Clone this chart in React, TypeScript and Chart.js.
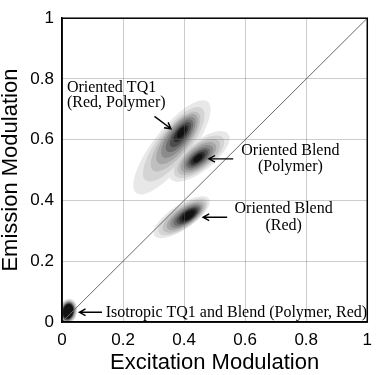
import { useEffect, useRef } from "react";
import { Chart, registerables } from "chart.js";

Chart.register(...registerables);

// Axis ticks
const xTicks = [0, 0.2, 0.4, 0.6, 0.8, 1];
const yTicks = [0, 0.2, 0.4, 0.6, 0.8, 1];

// Diagonal reference line (emission = excitation)
const diagonalX = [0, 1];
const diagonalY = [0, 1];

// Filled contour levels, lightest to darkest
const levelGrays = ["#e8e8e8", "#d4d4d4", "#bfbfbf", "#a6a6a6", "#8c8c8c", "#6e6e6e", "#4e4e4e", "#2e2e2e", "#121212"];

// Oriented TQ1 (Red, Polymer) contour ellipses per level
const tq1CenterX = [0.36, 0.366, 0.372, 0.377, 0.381, 0.385, 0.388, 0.39, 0.392];
const tq1CenterY = [0.575, 0.585, 0.594, 0.602, 0.608, 0.613, 0.617, 0.621, 0.624];
const tq1Major = [0.19, 0.15, 0.12, 0.1, 0.082, 0.065, 0.05, 0.035, 0.022];
const tq1Minor = [0.062, 0.052, 0.044, 0.038, 0.032, 0.026, 0.02, 0.015, 0.01];
const tq1Angle = 52;

// Oriented Blend (Polymer)
const blendPolyCenterX = [0.45, 0.449, 0.448, 0.447, 0.447, 0.446, 0.446, 0.445, 0.445];
const blendPolyCenterY = [0.545, 0.544, 0.543, 0.542, 0.541, 0.54, 0.54, 0.539, 0.539];
const blendPolyMajor = [0.12, 0.1, 0.084, 0.07, 0.058, 0.047, 0.038, 0.028, 0.018];
const blendPolyMinor = [0.048, 0.042, 0.037, 0.032, 0.027, 0.022, 0.017, 0.013, 0.009];
const blendPolyAngle = 38;

// Oriented Blend (Red)
const blendRedCenterX = [0.392, 0.396, 0.4, 0.403, 0.406, 0.409, 0.411, 0.413, 0.414];
const blendRedCenterY = [0.345, 0.346, 0.347, 0.348, 0.349, 0.35, 0.35, 0.351, 0.351];
const blendRedMajor = [0.108, 0.094, 0.082, 0.07, 0.06, 0.051, 0.042, 0.034, 0.025];
const blendRedMinor = [0.04, 0.036, 0.032, 0.028, 0.025, 0.021, 0.018, 0.015, 0.011];
const blendRedAngle = 34;

// Isotropic TQ1 and Blend
const isoCenterX = [0.02, 0.02, 0.02, 0.02, 0.02, 0.02, 0.02, 0.02, 0.02];
const isoCenterY = [0.035, 0.035, 0.035, 0.035, 0.035, 0.035, 0.035, 0.035, 0.035];
const isoMajor = [0.042, 0.039, 0.036, 0.034, 0.032, 0.03, 0.028, 0.026, 0.024];
const isoMinor = [0.03, 0.028, 0.026, 0.024, 0.022, 0.02, 0.019, 0.018, 0.016];
const isoAngle = 80;

// Annotation texts and their anchor positions (data units)
const annotationLines = [
  { text: "Oriented TQ1", x: 0.016, y: 0.757, align: "left" },
  { text: "(Red, Polymer)", x: 0.016, y: 0.709, align: "left" },
  { text: "Oriented Blend", x: 0.748, y: 0.55, align: "center" },
  { text: "(Polymer)", x: 0.748, y: 0.497, align: "center" },
  { text: "Oriented Blend", x: 0.726, y: 0.358, align: "center" },
  { text: "(Red)", x: 0.726, y: 0.304, align: "center" },
  { text: "Isotropic TQ1 and Blend (Polymer, Red)", x: 0.143, y: 0.016, align: "left" },
];

// Arrows: start -> head (data units)
const arrowFromX = [0.303, 0.561, 0.541, 0.131];
const arrowFromY = [0.677, 0.537, 0.345, 0.032];
const arrowToX = [0.357, 0.481, 0.462, 0.057];
const arrowToY = [0.636, 0.537, 0.345, 0.032];

const blobs = [
  { cx: tq1CenterX, cy: tq1CenterY, major: tq1Major, minor: tq1Minor, angle: tq1Angle },
  { cx: blendPolyCenterX, cy: blendPolyCenterY, major: blendPolyMajor, minor: blendPolyMinor, angle: blendPolyAngle },
  { cx: blendRedCenterX, cy: blendRedCenterY, major: blendRedMajor, minor: blendRedMinor, angle: blendRedAngle },
  { cx: isoCenterX, cy: isoCenterY, major: isoMajor, minor: isoMinor, angle: isoAngle },
];

const SANS = "'Liberation Sans', Arial, sans-serif";
const SERIF = "'Liberation Serif', 'Times New Roman', serif";

const blobPlugin = {
  id: "blobs",
  beforeDraw(chart: any) {
    const { ctx, chartArea } = chart;
    const xs = chart.scales.x;
    const ys = chart.scales.y;
    const ux = xs.getPixelForValue(1) - xs.getPixelForValue(0);
    const uy = ys.getPixelForValue(0) - ys.getPixelForValue(1);
    ctx.save();
    ctx.beginPath();
    ctx.rect(chartArea.left, chartArea.top, chartArea.right - chartArea.left, chartArea.bottom - chartArea.top);
    ctx.clip();
    for (let i = 0; i < levelGrays.length; i++) {
      ctx.fillStyle = levelGrays[i];
      for (const b of blobs) {
        ctx.beginPath();
        ctx.ellipse(
          xs.getPixelForValue(b.cx[i]),
          ys.getPixelForValue(b.cy[i]),
          b.major[i] * ux,
          b.minor[i] * uy,
          (-b.angle * Math.PI) / 180,
          0,
          Math.PI * 2
        );
        ctx.fill();
      }
    }
    ctx.restore();
  },
  afterDraw(chart: any) {
    const { ctx, chartArea } = chart;
    const xs = chart.scales.x;
    const ys = chart.scales.y;
    ctx.save();
    // frame
    ctx.strokeStyle = "#000";
    ctx.lineWidth = 1.5;
    ctx.strokeRect(chartArea.left, chartArea.top, chartArea.right - chartArea.left, chartArea.bottom - chartArea.top);
    // texts
    ctx.fillStyle = "#000";
    ctx.font = `16px ${SERIF}`;
    ctx.textBaseline = "alphabetic";
    for (const a of annotationLines) {
      ctx.textAlign = a.align as CanvasTextAlign;
      ctx.fillText(a.text, xs.getPixelForValue(a.x), ys.getPixelForValue(a.y));
    }
    // arrows
    ctx.lineWidth = 1.4;
    for (let i = 0; i < arrowFromX.length; i++) {
      const x1 = xs.getPixelForValue(arrowFromX[i]);
      const y1 = ys.getPixelForValue(arrowFromY[i]);
      const x2 = xs.getPixelForValue(arrowToX[i]);
      const y2 = ys.getPixelForValue(arrowToY[i]);
      const ang = Math.atan2(y2 - y1, x2 - x1);
      const h = 7;
      ctx.beginPath();
      ctx.moveTo(x1, y1);
      ctx.lineTo(x2, y2);
      ctx.moveTo(x2 - h * Math.cos(ang - 0.5), y2 - h * Math.sin(ang - 0.5));
      ctx.lineTo(x2, y2);
      ctx.lineTo(x2 - h * Math.cos(ang + 0.5), y2 - h * Math.sin(ang + 0.5));
      ctx.stroke();
    }
    ctx.restore();
  },
};

export default function App() {
  const ref = useRef<HTMLCanvasElement>(null);
  useEffect(() => {
    if (!ref.current) return;
    const chart = new Chart(ref.current, {
      type: "line",
      data: {
        datasets: [
          {
            data: diagonalX.map((v, i) => ({ x: v, y: diagonalY[i] })),
            borderColor: "#6a6a6a",
            borderWidth: 1,
            pointRadius: 0,
            fill: false,
          },
        ],
      },
      options: {
        animation: false,
        responsive: false,
        maintainAspectRatio: false,
        layout: { padding: { top: 9, right: 4, left: 0, bottom: 0 } },
        plugins: { legend: { display: false }, tooltip: { enabled: false } },
        scales: {
          x: {
            type: "linear",
            min: 0,
            max: 1,
            afterBuildTicks: (s: any) => {
              s.ticks = xTicks.map((v) => ({ value: v }));
            },
            afterFit: (s: any) => {
              s.height = 53;
            },
            ticks: {
              color: "#000",
              font: { family: SANS, size: 17 },
              padding: 8,
              maxRotation: 0,
              autoSkip: false,
              callback: (v: any) => String(v),
            },
            grid: { color: "rgba(110,110,110,0.35)", lineWidth: 1, drawTicks: false },
            border: { display: true, color: "#000", width: 1.5 },
            title: {
              display: true,
              text: "Excitation Modulation",
              color: "#000",
              font: { family: SANS, size: 22, lineHeight: 1 },
              padding: { top: 0, bottom: 1 },
            },
          },
          y: {
            type: "linear",
            min: 0,
            max: 1,
            afterBuildTicks: (s: any) => {
              s.ticks = yTicks.map((v) => ({ value: v }));
            },
            afterFit: (s: any) => {
              s.width = 62;
            },
            ticks: {
              color: "#000",
              font: { family: SANS, size: 17 },
              padding: 8,
              autoSkip: false,
              callback: (v: any) => String(v),
            },
            grid: { color: "rgba(110,110,110,0.35)", lineWidth: 1, drawTicks: false },
            border: { display: true, color: "#000", width: 1.5 },
            title: {
              display: true,
              text: "Emission Modulation",
              color: "#000",
              font: { family: SANS, size: 22, lineHeight: 1 },
              padding: { top: 0, bottom: 0 },
            },
          },
        },
      },
      plugins: [blobPlugin],
    });
    return () => chart.destroy();
  }, []);
  return (
    <div style={{ position: "fixed", left: 0, top: 0, width: 380, height: 375, background: "#fff" }}>
      <canvas ref={ref} width={380} height={375} style={{ width: 380, height: 375, display: "block" }} />
    </div>
  );
}
